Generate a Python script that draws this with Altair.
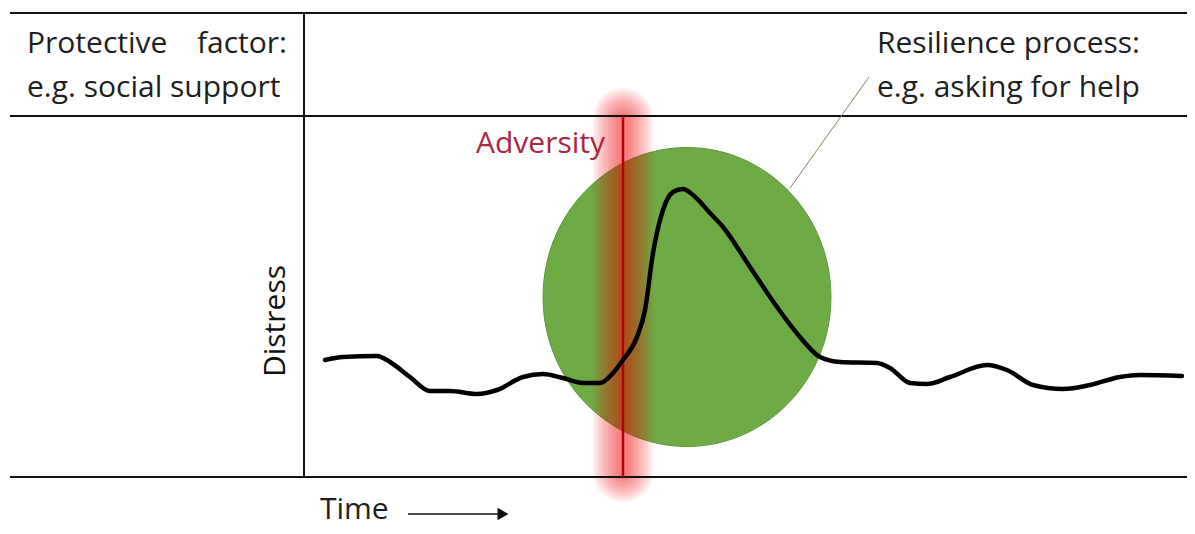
import altair as alt
import pandas as pd

# ---- data (image pixel coordinates) ----
curve_x = [325, 343, 377, 390, 410, 430, 450, 477, 497, 523, 543, 563, 583, 600, 613, 623,
           637, 645, 653, 663, 673, 683, 693, 710, 723, 750, 777, 800, 820, 840, 877, 890,
           910, 927, 950, 987, 1007, 1033, 1063, 1090, 1120, 1140, 1182]
curve_y = [360, 357, 356, 362, 377, 391, 391, 394, 390, 377, 374, 378, 383, 383, 373, 360,
           337, 310, 253, 210, 192, 189, 195, 213, 227, 267, 307, 337, 357, 362, 363, 368,
           383, 384, 377, 365, 370, 385, 389, 385, 377, 375, 376]

hlines_x = [10, 10, 10]
hlines_x2 = [1195, 1195, 1195]
hlines_y = [13, 116, 477]
vline_x = [304]
vline_y = [13]
vline_y2 = [477]

adversity_x = [623]
adversity_y = [116]
adversity_y2 = [477]
glow_widths = [60, 55, 50, 45, 40, 35, 30, 25, 20, 15, 10]
glow_y = [118]
glow_y2 = [472]

circle_x = [687]
circle_y = [297]

leader_x = [790, 869]
leader_y = [188, 77]

labels = ["Protective", "e.g. social support", "Resilience process:",
          "e.g. asking for help", "Time"]
labels_x = [27, 27, 877, 877, 320]
labels_y = [53, 97, 53, 97, 519]

right_labels = ["factor:"]
right_labels_x = [287]
right_labels_y = [53]

adv_label = ["Adversity"]
adv_label_x = [476]
adv_label_y = [153]

ylabel = ["Distress"]
ylabel_x = [285]
ylabel_y = [321]

arrow_x = [408]
arrow_x2 = [500]
arrow_y = [514]
arrowhead_x = [503]

FONT = "Open Sans"
FS = 30
W, H = 1179, 520
X0, Y0 = 8, 8
xs = alt.Scale(domain=[X0, X0 + W], range=[0, W], nice=False, zero=False)
ys = alt.Scale(domain=[Y0, Y0 + H], range=[0, H], nice=False, zero=False)

def X(f):
    return alt.X(f, type="quantitative", scale=xs, axis=None)

def Y(f):
    return alt.Y(f, type="quantitative", scale=ys, axis=None)

# green circle (slightly elliptical)
circ = alt.Chart(pd.DataFrame({"x": circle_x, "y": circle_y})).mark_point(
    shape="M -0.963 0 A 0.963 1 0 1 1 0.963 0 A 0.963 1 0 1 1 -0.963 0 Z",
    size=299 * 299, filled=True, color="#6eab45", opacity=1,
    stroke="#5d9638", strokeWidth=1,
).encode(x=X("x"), y=Y("y"))

# red glow
glow_layers = []
for w in glow_widths:
    glow_layers.append(
        alt.Chart(pd.DataFrame({"x": adversity_x, "y": glow_y, "y2": glow_y2})).mark_rule(
            color="#f00000", strokeWidth=w, opacity=0.06, strokeCap="round"
        ).encode(x=X("x"), y=Y("y"), y2="y2")
    )

# frame lines
hl = alt.Chart(pd.DataFrame({"x": hlines_x, "x2": hlines_x2, "y": hlines_y})).mark_rule(
    color="#111111", strokeWidth=2
).encode(x=X("x"), x2="x2", y=Y("y"))
vl = alt.Chart(pd.DataFrame({"x": vline_x, "y": vline_y, "y2": vline_y2})).mark_rule(
    color="#111111", strokeWidth=2
).encode(x=X("x"), y=Y("y"), y2="y2")

# adversity line
adv = alt.Chart(pd.DataFrame({"x": adversity_x, "y": adversity_y, "y2": adversity_y2})).mark_rule(
    color="#b80000", strokeWidth=2.5
).encode(x=X("x"), y=Y("y"), y2="y2")

# distress curve
curve = alt.Chart(pd.DataFrame({"x": curve_x, "y": curve_y})).mark_line(
    color="#000000", strokeWidth=4.5, interpolate="monotone", strokeCap="round"
).encode(x=X("x"), y=Y("y"))

# leader line
leader = alt.Chart(pd.DataFrame({"x": leader_x, "y": leader_y})).mark_line(
    color="#6f8f5f", strokeWidth=1
).encode(x=X("x"), y=Y("y"))

# texts
txt = alt.Chart(pd.DataFrame({"t": labels, "x": labels_x, "y": labels_y})).mark_text(
    align="left", baseline="alphabetic", font=FONT, fontSize=FS, color="#1e1e1e"
).encode(x=X("x"), y=Y("y"), text="t:N")

rtxt = alt.Chart(pd.DataFrame({"t": right_labels, "x": right_labels_x, "y": right_labels_y})).mark_text(
    align="right", baseline="alphabetic", font=FONT, fontSize=FS, color="#1e1e1e"
).encode(x=X("x"), y=Y("y"), text="t:N")

advtxt = alt.Chart(pd.DataFrame({"t": adv_label, "x": adv_label_x, "y": adv_label_y})).mark_text(
    align="left", baseline="alphabetic", font=FONT, fontSize=FS, color="#a8283f"
).encode(x=X("x"), y=Y("y"), text="t:N")

ytxt = alt.Chart(pd.DataFrame({"t": ylabel, "x": ylabel_x, "y": ylabel_y})).mark_text(
    align="center", baseline="alphabetic", font=FONT, fontSize=FS, color="#111111", angle=270
).encode(x=X("x"), y=Y("y"), text="t:N")

# time arrow
arr = alt.Chart(pd.DataFrame({"x": arrow_x, "x2": arrow_x2, "y": arrow_y})).mark_rule(
    color="#111111", strokeWidth=1.5
).encode(x=X("x"), x2="x2", y=Y("y"))
head = alt.Chart(pd.DataFrame({"x": arrowhead_x, "y": arrow_y})).mark_point(
    shape="triangle-right", size=160, filled=True, color="#111111", opacity=1
).encode(x=X("x"), y=Y("y"))

chart = alt.layer(circ, *glow_layers, hl, vl, adv, curve, leader, txt, rtxt, advtxt, ytxt, arr, head).properties(
    width=W, height=H, padding=0, autosize=alt.AutoSizeParams(type="none")
).configure_view(stroke=None)

chart.save("out.html", embed_options={"renderer": "svg", "actions": False})
